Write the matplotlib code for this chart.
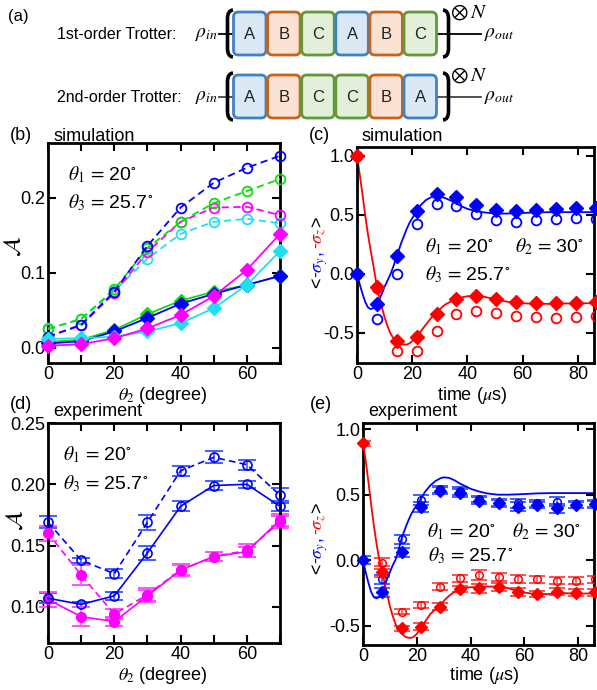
import matplotlib
matplotlib.use("Agg")
import matplotlib.pyplot as plt
from matplotlib.patches import FancyBboxPatch, PathPatch
from matplotlib.path import Path
from matplotlib.ticker import FuncFormatter

plt.rcParams['font.family'] = ['Liberation Sans', 'DejaVu Sans']
plt.rcParams['mathtext.fontset'] = 'stix'
plt.rcParams['axes.unicode_minus'] = False

# ---------------- data ----------------
seq_first = ["A", "B", "C", "A", "B", "C"]
seq_second = ["A", "B", "C", "C", "B", "A"]
row_labels = ["1st-order Trotter:", "2nd-order Trotter:"]

theta2 = [0, 10, 20, 30, 40, 50, 60, 70]
b_blue_dash = [0.015, 0.031, 0.075, 0.136, 0.187, 0.220, 0.240, 0.256]
b_green_dash = [0.025, 0.039, 0.078, 0.133, 0.168, 0.193, 0.209, 0.225]
b_mag_dash = [0.015, 0.030, 0.073, 0.128, 0.168, 0.187, 0.188, 0.177]
b_cyan_dash = [0.026, 0.038, 0.076, 0.119, 0.152, 0.168, 0.172, 0.166]
b_green_solid = [0.008, 0.011, 0.024, 0.045, 0.063, 0.075, 0.084, 0.096]
b_blue_solid = [0.006, 0.009, 0.022, 0.040, 0.059, 0.072, 0.084, 0.096]
b_cyan_solid = [0.012, 0.013, 0.015, 0.022, 0.033, 0.053, 0.084, 0.129]
b_mag_solid = [0.003, 0.005, 0.013, 0.026, 0.044, 0.069, 0.104, 0.152]

t_pts = [0, 7.2, 14.4, 21.6, 28.8, 36.0, 43.2, 50.4, 57.6, 64.8, 72.0, 79.2, 86.4]
c_blue_fill = [0.0, -0.256, 0.148, 0.531, 0.673, 0.651, 0.582, 0.540, 0.531, 0.543, 0.551, 0.560, 0.554]
c_blue_open = [0.0, -0.386, 0.0, 0.418, 0.588, 0.574, 0.503, 0.452, 0.440, 0.452, 0.460, 0.469, 0.465]
c_red_fill = [1.0, -0.108, -0.568, -0.534, -0.341, -0.216, -0.185, -0.216, -0.241, -0.250, -0.250, -0.245, -0.241]
c_red_open = [1.0, -0.12, -0.656, -0.656, -0.483, -0.341, -0.313, -0.330, -0.355, -0.370, -0.372, -0.364, -0.360]

t_curve = [0, 1, 2, 3, 4, 5, 6, 7.2, 8, 9, 10, 11, 12, 13, 14.4, 16, 17, 18, 19, 20, 21.6,
           23, 25, 27, 28.8, 30, 32, 34, 36, 38, 40, 43, 46, 50, 54, 57, 60, 65, 70, 75, 80, 86.4]
c_blue_curve = [0, -0.09, -0.17, -0.24, -0.285, -0.30, -0.29, -0.256, -0.22, -0.17, -0.11, -0.06,
                -0.01, 0.05, 0.148, 0.26, 0.32, 0.38, 0.43, 0.47, 0.53, 0.58, 0.625, 0.65, 0.658,
                0.655, 0.64, 0.62, 0.595, 0.57, 0.55, 0.53, 0.52, 0.51, 0.51, 0.512, 0.515, 0.52,
                0.522, 0.522, 0.522, 0.522]
c_red_curve = [1.0, 0.84, 0.67, 0.49, 0.33, 0.19, 0.06, -0.108, -0.19, -0.28, -0.37, -0.44, -0.50,
               -0.54, -0.575, -0.595, -0.60, -0.60, -0.59, -0.57, -0.535, -0.49, -0.43, -0.37,
               -0.33, -0.30, -0.26, -0.235, -0.215, -0.20, -0.19, -0.188, -0.195, -0.215, -0.235,
               -0.245, -0.25, -0.255, -0.255, -0.252, -0.25, -0.25]

d_blue_dash = [0.169, 0.138, 0.127, 0.169, 0.211, 0.222, 0.216, 0.191]
d_blue_solid = [0.107, 0.102, 0.109, 0.144, 0.182, 0.199, 0.200, 0.182]
d_mag_dash = [0.160, 0.126, 0.094, 0.110, 0.130, 0.141, 0.146, 0.169]
d_mag_solid = [0.106, 0.092, 0.088, 0.109, 0.130, 0.141, 0.145, 0.171]
d_err_blue_dash = [0.005, 0.002, 0.0035, 0.006, 0.004, 0.005, 0.004, 0.006]
d_err_blue_solid = [0.004, 0.002, 0.0035, 0.006, 0.004, 0.004, 0.003, 0.004]
d_err_mag_dash = [0.006, 0.008, 0.004, 0.005, 0.005, 0.004, 0.005, 0.005]
d_err_mag_solid = [0.006, 0.008, 0.004, 0.005, 0.004, 0.004, 0.004, 0.005]

e_blue_fill = [0.0, -0.244, 0.061, 0.408, 0.530, 0.515, 0.454, 0.434, 0.408, 0.421, 0.396, 0.421, 0.426]
e_blue_open = [0.0, -0.145, 0.16, 0.459, 0.540, 0.528, 0.467, 0.439, 0.434, 0.434, 0.446, 0.426, 0.434]
e_red_fill = [0.891, -0.087, -0.518, -0.506, -0.353, -0.219, -0.213, -0.201, -0.239, -0.257, -0.239, -0.247, -0.244]
e_red_open = [0.891, -0.023, -0.391, -0.340, -0.201, -0.137, -0.112, -0.125, -0.142, -0.145, -0.155, -0.155, -0.145]
e_err_blue = [0.03, 0.035, 0.035, 0.04, 0.025, 0.03, 0.025, 0.025, 0.035, 0.025, 0.035, 0.025, 0.025]
e_err_red = [0.02, 0.04, 0.02, 0.025, 0.025, 0.025, 0.035, 0.03, 0.03, 0.025, 0.025, 0.025, 0.025]
e_blue_curve = [0, -0.09, -0.17, -0.24, -0.28, -0.29, -0.28, -0.24, -0.20, -0.14, -0.09, -0.04,
                0.0, 0.06, 0.17, 0.26, 0.31, 0.355, 0.39, 0.42, 0.47, 0.52, 0.57, 0.605, 0.625,
                0.632, 0.628, 0.61, 0.585, 0.565, 0.545, 0.525, 0.51, 0.50, 0.50, 0.502, 0.505,
                0.51, 0.512, 0.512, 0.512, 0.512]
e_red_curve = [0.9, 0.76, 0.60, 0.43, 0.27, 0.13, 0.01, -0.09, -0.17, -0.26, -0.35, -0.42, -0.48,
               -0.53, -0.56, -0.585, -0.59, -0.59, -0.58, -0.56, -0.515, -0.47, -0.41, -0.37,
               -0.34, -0.31, -0.27, -0.24, -0.22, -0.21, -0.205, -0.205, -0.20, -0.20, -0.212,
               -0.232, -0.245, -0.26, -0.255, -0.25, -0.255, -0.25]

# ---------------- styles ----------------
BLUE = '#0000ff'
GREEN = '#10dd10'
MAG = '#ff00ff'
CYAN = '#20e0f0'
RED = '#ff0000'
BLUE_E = '#4060ff'
MAG_E = '#ff50ff'
RED_E = '#ff5050'
DASH = (4, 2.5)

W, H = 597, 690
fig = plt.figure(figsize=(W / 100, H / 100), dpi=100)


def axes_px(l, r, t, b):
    return fig.add_axes([l / W, 1 - b / H, (r - l) / W, (b - t) / H])


def ftext(x, y, s, **kw):
    return fig.text(x / W, 1 - y / H, s, **kw)


# ---------------- (a) diagram ----------------
axa = fig.add_axes([0, 0, 1, 1])
axa.set_xlim(0, W)
axa.set_ylim(H, 0)
axa.axis('off')
box_col = {"A": ("#dbe8f5", "#3e82c4"), "B": ("#fbe2d3", "#c8631e"), "C": ("#e2efd9", "#62993b")}
row_y = [33.5, 96.5]
bx0, bw, bh, pitch = 233.5, 32.5, 43, 34.1
for r, seq in enumerate([seq_first, seq_second]):
    yc = row_y[r]
    axa.plot([219, 481], [yc, yc], color='k' if r == 0 else '#444444', lw=1.3, zorder=1)
    for i, g in enumerate(seq):
        x0 = bx0 + i * pitch
        fc, ec = box_col[g]
        axa.add_patch(FancyBboxPatch((x0, yc - bh / 2), bw, bh,
                                     boxstyle="round,pad=0,rounding_size=5",
                                     fc=fc, ec=ec, lw=2.0, zorder=2))
        axa.text(x0 + bw / 2, yc + 1, g, ha='center', va='center', fontsize=12, color='#222222', zorder=3)
    xl, xr = 233.0, 443.0
    codes = [Path.MOVETO, Path.CURVE3, Path.CURVE3, Path.LINETO, Path.CURVE3, Path.CURVE3]
    left = [(xl, yc - 23.5), (xl - 5.5, yc - 23), (xl - 5.5, yc - 15),
            (xl - 5.5, yc + 15), (xl - 5.5, yc + 23), (xl, yc + 23.5)]
    right = [(xr, yc - 23.5), (xr + 5.5, yc - 23), (xr + 5.5, yc - 15),
             (xr + 5.5, yc + 15), (xr + 5.5, yc + 23), (xr, yc + 23.5)]
    for verts in (left, right):
        axa.add_patch(PathPatch(Path(verts, codes), fc='none', ec='k', lw=2.6, zorder=4))
    axa.text(218, yc + 1, r"$\rho_{in}$", ha='right', va='center', fontsize=14)
    axa.text(484, yc + 1, r"$\rho_{out}$", ha='left', va='center', fontsize=14)
    axa.text(450, yc - 21, r"$\otimes\, N$", ha='left', va='center', fontsize=15)
    axa.text(57, yc + 1, row_labels[r], ha='left', va='center', fontsize=11.5)
axa.text(8, 16, "(a)", ha='left', va='center', fontsize=12)


def style(ax, xticks, xlab_every, yticks, yfmt):
    for s in ax.spines.values():
        s.set_linewidth(2)
    ax.tick_params(direction='in', length=6, width=1.5, top=True, right=True,
                   labelsize=13, pad=2)
    ax.set_xticks(xticks)
    ax.xaxis.set_major_formatter(FuncFormatter(
        lambda v, p: ("%d" % round(v)) if round(v) % xlab_every == 0 else ""))
    ax.set_yticks(yticks)
    ax.yaxis.set_major_formatter(FuncFormatter(lambda v, p: yfmt % v))


# ---------------- (b) ----------------
axb = axes_px(48, 280, 143, 363)
for y, c in [(b_cyan_dash, CYAN), (b_mag_dash, MAG), (b_green_dash, GREEN), (b_blue_dash, BLUE)]:
    axb.plot(theta2, y, ls='--', dashes=DASH, color=c, lw=1.3, marker='o', ms=7,
             mfc='none', mec=c, mew=1.3, clip_on=False, zorder=3)
for y, c in [(b_green_solid, GREEN), (b_blue_solid, BLUE), (b_cyan_solid, CYAN), (b_mag_solid, MAG)]:
    axb.plot(theta2, y, ls='-', color=c, lw=1.3, marker='D', ms=7, mfc=c, mec=c,
             clip_on=False, zorder=4)
axb.set_xlim(0, 70)
axb.set_ylim(-0.02, 0.273)
style(axb, theta2, 20, [0.0, 0.1, 0.2], "%.1f")

# ---------------- (c) ----------------
axc = axes_px(357, 594.4, 147, 363)
axc.plot(t_curve, c_blue_curve, color=BLUE, lw=1.3, zorder=2)
axc.plot(t_curve, c_red_curve, color=RED, lw=1.3, zorder=2)
axc.plot(t_pts, c_blue_open, ls='none', marker='o', ms=7, mfc='none', mec=BLUE, mew=1.3, zorder=3)
axc.plot(t_pts, c_red_open, ls='none', marker='o', ms=7, mfc='none', mec=RED, mew=1.3, zorder=3)
axc.plot(t_pts, c_blue_fill, ls='none', marker='D', ms=7.5, mfc=BLUE, mec=BLUE, zorder=4, clip_on=False)
axc.plot(t_pts, c_red_fill, ls='none', marker='D', ms=7.5, mfc=RED, mec=RED, zorder=4, clip_on=False)
axc.set_xlim(0, 86)
axc.set_ylim(-0.756, 1.074)
style(axc, [0, 20, 40, 60, 80], 20, [-0.5, 0.0, 0.5, 1.0], "%.1f")

# ---------------- (d) ----------------
axd = axes_px(48, 280, 423, 643)
err_kw = dict(fmt='none', capsize=6.5, elinewidth=1.2, capthick=1.4, zorder=2, clip_on=False)
axd.errorbar(theta2, d_blue_dash, yerr=d_err_blue_dash, ecolor=BLUE_E, **err_kw)
axd.errorbar(theta2, d_blue_solid, yerr=d_err_blue_solid, ecolor=BLUE_E, **err_kw)
axd.errorbar(theta2, d_mag_dash, yerr=d_err_mag_dash, ecolor=MAG_E, **err_kw)
axd.errorbar(theta2, d_mag_solid, yerr=d_err_mag_solid, ecolor=MAG_E, **err_kw)
axd.plot(theta2, d_mag_dash, ls='--', dashes=DASH, color=MAG, lw=1.2, marker='o', ms=7,
         mfc=MAG, mec=MAG, clip_on=False, zorder=3)
axd.plot(theta2, d_mag_solid, ls='-', color=MAG, lw=1.2, marker='o', ms=7,
         mfc=MAG, mec=MAG, clip_on=False, zorder=3)
axd.plot(theta2, d_blue_dash, ls='--', dashes=DASH, color=BLUE, lw=1.2, marker='o', ms=6.5,
         mfc='none', mec=BLUE, mew=1.2, clip_on=False, zorder=4)
axd.plot(theta2, d_blue_solid, ls='-', color=BLUE, lw=1.2, marker='o', ms=6.5,
         mfc='none', mec=BLUE, mew=1.2, clip_on=False, zorder=4)
axd.set_xlim(0, 70)
axd.set_ylim(0.0705, 0.25)
style(axd, theta2, 20, [0.10, 0.15, 0.20, 0.25], "%.2f")

# ---------------- (e) ----------------
axe = axes_px(363, 594.3, 423, 645)
err_kw2 = dict(fmt='none', capsize=5.5, elinewidth=1.2, capthick=1.4, zorder=2)
axe.errorbar(t_pts, e_blue_open, yerr=e_err_blue, ecolor=BLUE_E, **err_kw2)
axe.errorbar(t_pts, e_blue_fill, yerr=e_err_blue, ecolor=BLUE_E, **err_kw2)
axe.errorbar(t_pts, e_red_open, yerr=e_err_red, ecolor=RED_E, **err_kw2)
axe.errorbar(t_pts, e_red_fill, yerr=e_err_red, ecolor=RED_E, **err_kw2)
axe.plot(t_curve, e_blue_curve, color=BLUE, lw=1.3, zorder=3)
axe.plot(t_curve, e_red_curve, color=RED, lw=1.3, zorder=3)
axe.plot(t_pts, e_blue_open, ls='none', marker='o', ms=5.5, mfc='none', mec=BLUE, mew=1.1, zorder=4)
axe.plot(t_pts, e_red_open, ls='none', marker='o', ms=5.5, mfc='none', mec=RED, mew=1.1, zorder=4)
axe.plot(t_pts, e_blue_fill, ls='none', marker='D', ms=6, mfc=BLUE, mec=BLUE, zorder=5, clip_on=False)
axe.plot(t_pts, e_red_fill, ls='none', marker='D', ms=6, mfc=RED, mec=RED, zorder=5, clip_on=False)
axe.set_xlim(0, 86)
axe.set_ylim(-0.645, 1.046)
style(axe, [0, 20, 40, 60, 80], 20, [-0.5, 0.0, 0.5, 1.0], "%.1f")

# ---------------- texts ----------------
FS = 13
ftext(10, 140, "(b)", fontsize=FS, va='baseline')
ftext(53, 141, "simulation", fontsize=FS, va='baseline')
ftext(309, 140, "(c)", fontsize=FS, va='baseline')
ftext(362, 141, "simulation", fontsize=FS, va='baseline')
ftext(10, 409, "(d)", fontsize=FS, va='baseline')
ftext(53, 416, "experiment", fontsize=FS, va='baseline')
ftext(310, 409, "(e)", fontsize=FS, va='baseline')
ftext(368, 416, "experiment", fontsize=FS, va='baseline')

th1 = r"$\theta_1\,{=}\,$20$^{\circ}$"
th2 = r"$\theta_2\,{=}\,$30$^{\circ}$"
th3 = r"$\theta_3\,{=}\,$25.7$^{\circ}$"
TFS = 14
ftext(68, 180, th1, fontsize=TFS, va='baseline')
ftext(68, 208, th3, fontsize=TFS, va='baseline')
ftext(425, 252, th1, fontsize=TFS, va='baseline')
ftext(515, 252, th2, fontsize=TFS, va='baseline')
ftext(425, 280, th3, fontsize=TFS, va='baseline')
ftext(63, 460, th1, fontsize=TFS, va='baseline')
ftext(63, 489, th3, fontsize=TFS, va='baseline')
ftext(427, 537, th1, fontsize=TFS, va='baseline')
ftext(512, 537, th2, fontsize=TFS, va='baseline')
ftext(428, 561, th3, fontsize=TFS, va='baseline')

ftext(163, 395, r"$\theta_2$ (degree)", fontsize=FS, ha='center', va='center')
ftext(163, 675, r"$\theta_2$ (degree)", fontsize=FS, ha='center', va='center')
ftext(472, 395, r"time ($\mu$s)", fontsize=FS, ha='center', va='center')
ftext(484, 675, r"time ($\mu$s)", fontsize=FS, ha='center', va='center')

ftext(14, 246, r"$\mathcal{A}$", fontsize=17, ha='center', va='center', rotation=90)
ftext(16, 520, r"$\mathcal{A}$", fontsize=17, ha='center', va='center', rotation=90)

renderer = fig.canvas.get_renderer()


def color_vlabel(x_px, y_bottom_px, parts, fs):
    y = H - y_bottom_px
    for s, c in parts:
        t = fig.text(x_px / W, y / H, s, color=c, fontsize=fs, rotation=90,
                     rotation_mode='anchor', ha='left', va='baseline')
        bb = t.get_window_extent(renderer=renderer)
        y += bb.height


vparts = [("<", 'k'), (r"-$\sigma_y$, ", BLUE), (r"-$\sigma_z$", RED), (">", 'k')]
color_vlabel(323, 288, vparts, 13)
color_vlabel(323, 574, vparts, 13)

fig.savefig("out.png", dpi=100)
